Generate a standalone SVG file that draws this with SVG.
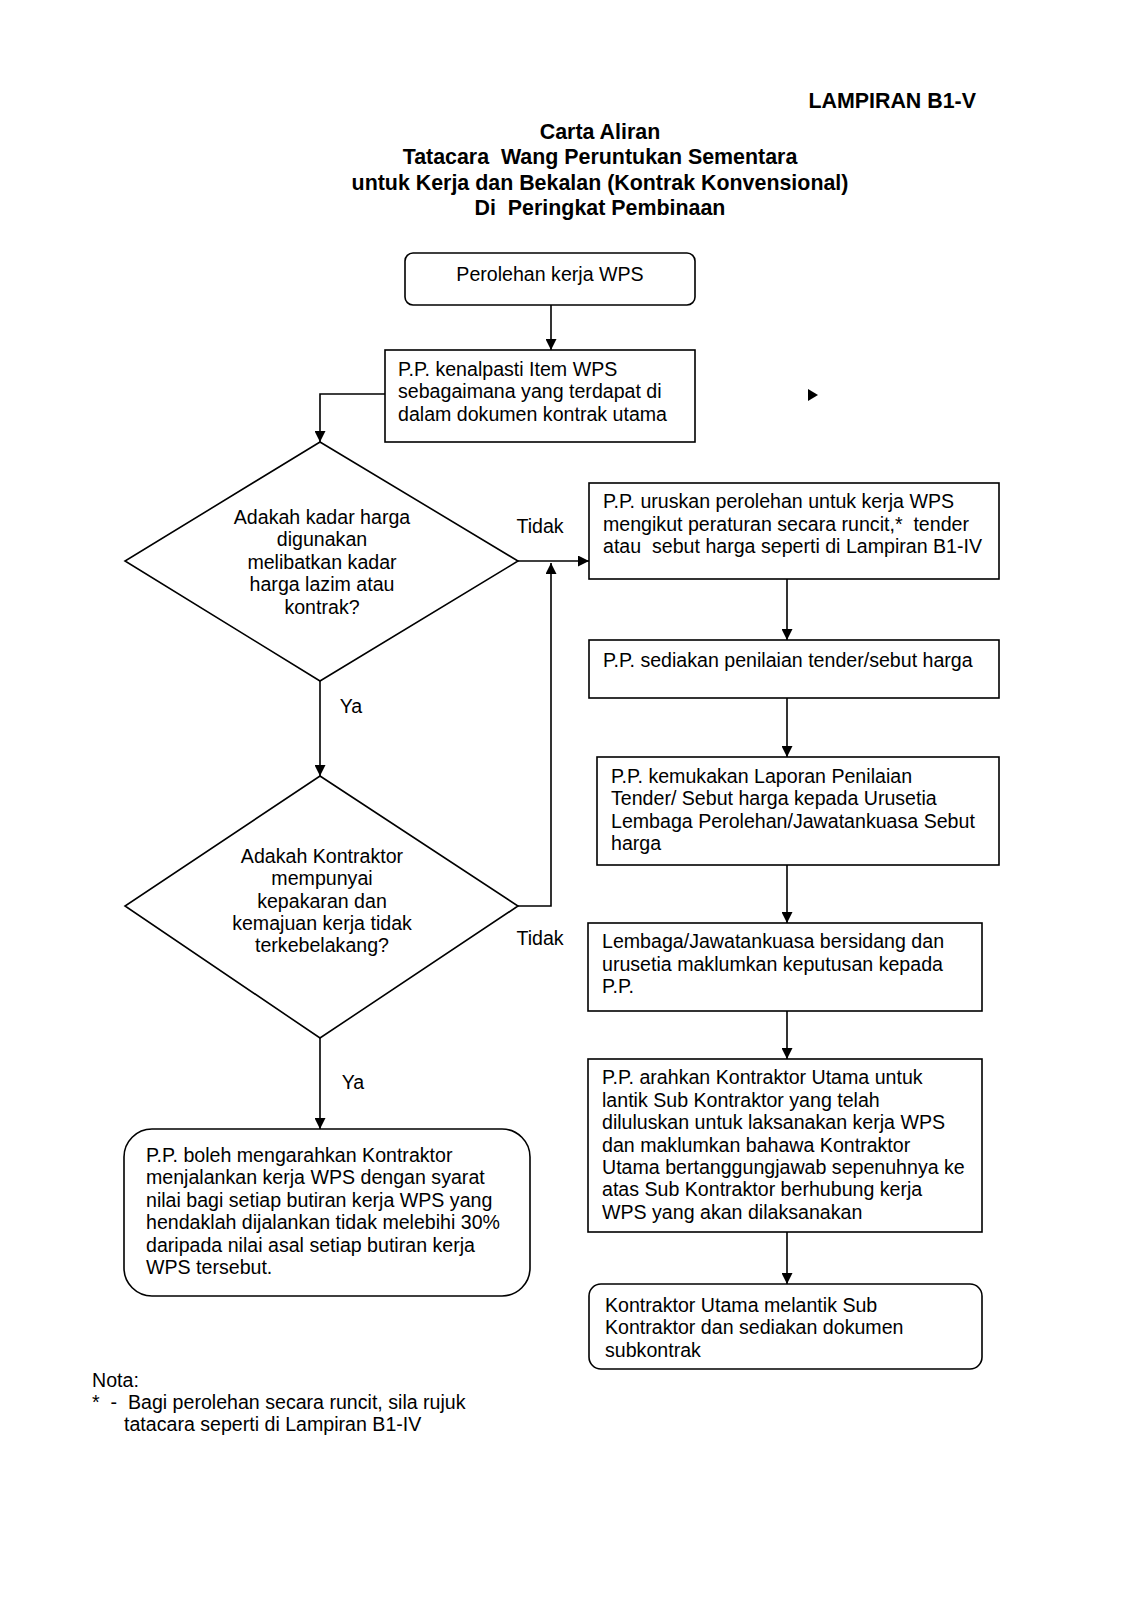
<svg xmlns="http://www.w3.org/2000/svg" width="1130" height="1600" viewBox="0 0 1130 1600">
<style>
text { font-family: "Liberation Sans", Arial, sans-serif; fill: #000; white-space: pre; }
.t { font-size: 19.6px; }
.c { text-anchor: middle; }
.h { font-size: 21.4px; font-weight: bold; text-anchor: middle; }
.box { fill: #fff; stroke: #000; stroke-width: 1.6; }
.ln { fill: none; stroke: #000; stroke-width: 1.6; }
</style>
<defs>
<marker id="ah" markerWidth="11" markerHeight="11" refX="11" refY="5.5" orient="auto" markerUnits="userSpaceOnUse">
<path d="M0,0 L11,5.5 L0,11 Z" fill="#000"/>
</marker>
</defs>
<rect width="1130" height="1600" fill="#fff"/>
<g id="header">
<text x="976" y="108" style="font-size:21.4px;font-weight:bold;text-anchor:end">LAMPIRAN B1-V</text>
<text class="h" x="600" y="139">Carta Aliran</text>
<text class="h" x="600" y="164" xml:space="preserve">Tatacara  Wang Peruntukan Sementara</text>
<text class="h" x="600" y="190">untuk Kerja dan Bekalan (Kontrak Konvensional)</text>
<text class="h" x="600" y="215" xml:space="preserve">Di  Peringkat Pembinaan</text>
</g>
<g id="connectors">
<line class="ln" x1="551" y1="305" x2="551" y2="350" marker-end="url(#ah)"/>
<polyline class="ln" points="385,394 320,394 320,442" marker-end="url(#ah)"/>
<line class="ln" x1="518" y1="561" x2="589" y2="561" marker-end="url(#ah)"/>
<polyline class="ln" points="518,906 551,906 551,563" marker-end="url(#ah)"/>
<line class="ln" x1="320" y1="681" x2="320" y2="776" marker-end="url(#ah)"/>
<line class="ln" x1="320" y1="1038" x2="320" y2="1129" marker-end="url(#ah)"/>
<line class="ln" x1="787" y1="579" x2="787" y2="640" marker-end="url(#ah)"/>
<line class="ln" x1="787" y1="698" x2="787" y2="757" marker-end="url(#ah)"/>
<line class="ln" x1="787" y1="865" x2="787" y2="923" marker-end="url(#ah)"/>
<line class="ln" x1="787" y1="1011" x2="787" y2="1059" marker-end="url(#ah)"/>
<line class="ln" x1="787" y1="1232" x2="787" y2="1284" marker-end="url(#ah)"/>
<text class="t" x="540" y="533" text-anchor="middle">Tidak</text>
<text class="t" x="351" y="713" text-anchor="middle">Ya</text>
<text class="t" x="540" y="945" text-anchor="middle">Tidak</text>
<text class="t" x="353" y="1089" text-anchor="middle">Ya</text>
<path d="M808,389 L818,395 L808,401 Z" fill="#000"/>
</g>
<g id="n1">
<rect class="box" x="405" y="253" width="290" height="52" rx="8"/>
<text class="t c" x="550" y="281">Perolehan kerja WPS</text>
</g>
<g id="n2">
<rect class="box" x="385" y="350" width="310" height="92"/>
<text class="t" x="398" y="376">P.P. kenalpasti Item WPS</text>
<text class="t" x="398" y="398">sebagaimana yang terdapat di</text>
<text class="t" x="398" y="421">dalam dokumen kontrak utama</text>
</g>
<g id="d1">
<polygon class="box" points="320,442 518,561 320,681 125,561"/>
<text class="t c" x="322" y="524">Adakah kadar harga</text>
<text class="t c" x="322" y="546">digunakan</text>
<text class="t c" x="322" y="569">melibatkan kadar</text>
<text class="t c" x="322" y="591">harga lazim atau</text>
<text class="t c" x="322" y="614">kontrak?</text>
</g>
<g id="d2">
<polygon class="box" points="320,776 518,906 320,1038 125,906"/>
<text class="t c" x="322" y="863">Adakah Kontraktor</text>
<text class="t c" x="322" y="885">mempunyai</text>
<text class="t c" x="322" y="908">kepakaran dan</text>
<text class="t c" x="322" y="930">kemajuan kerja tidak</text>
<text class="t c" x="322" y="952">terkebelakang?</text>
</g>
<g id="n3">
<rect class="box" x="589" y="483" width="410" height="96"/>
<text class="t" x="603" y="508">P.P. uruskan perolehan untuk kerja WPS</text>
<text class="t" x="603" y="531" xml:space="preserve">mengikut peraturan secara runcit,*  tender</text>
<text class="t" x="603" y="553" xml:space="preserve">atau  sebut harga seperti di Lampiran B1-IV</text>
</g>
<g id="n4">
<rect class="box" x="589" y="640" width="410" height="58"/>
<text class="t" x="603" y="667">P.P. sediakan penilaian tender/sebut harga</text>
</g>
<g id="n5">
<rect class="box" x="597" y="757" width="402" height="108"/>
<text class="t" x="611" y="783">P.P. kemukakan Laporan Penilaian</text>
<text class="t" x="611" y="805">Tender/ Sebut harga kepada Urusetia</text>
<text class="t" x="611" y="828">Lembaga Perolehan/Jawatankuasa Sebut</text>
<text class="t" x="611" y="850">harga</text>
</g>
<g id="n6">
<rect class="box" x="588" y="923" width="394" height="88"/>
<text class="t" x="602" y="948">Lembaga/Jawatankuasa bersidang dan</text>
<text class="t" x="602" y="971">urusetia maklumkan keputusan kepada</text>
<text class="t" x="602" y="993">P.P.</text>
</g>
<g id="n7">
<rect class="box" x="588" y="1059" width="394" height="173"/>
<text class="t" x="602" y="1084">P.P. arahkan Kontraktor Utama untuk</text>
<text class="t" x="602" y="1107">lantik Sub Kontraktor yang telah</text>
<text class="t" x="602" y="1129">diluluskan untuk laksanakan kerja WPS</text>
<text class="t" x="602" y="1152">dan maklumkan bahawa Kontraktor</text>
<text class="t" x="602" y="1174">Utama bertanggungjawab sepenuhnya ke</text>
<text class="t" x="602" y="1196">atas Sub Kontraktor berhubung kerja</text>
<text class="t" x="602" y="1219">WPS yang akan dilaksanakan</text>
</g>
<g id="n8">
<rect class="box" x="589" y="1284" width="393" height="85" rx="12"/>
<text class="t" x="605" y="1312">Kontraktor Utama melantik Sub</text>
<text class="t" x="605" y="1334">Kontraktor dan sediakan dokumen</text>
<text class="t" x="605" y="1357">subkontrak</text>
</g>
<g id="n9">
<rect class="box" x="124" y="1129" width="406" height="167" rx="28"/>
<text class="t" x="146" y="1162">P.P. boleh mengarahkan Kontraktor</text>
<text class="t" x="146" y="1184">menjalankan kerja WPS dengan syarat</text>
<text class="t" x="146" y="1207">nilai bagi setiap butiran kerja WPS yang</text>
<text class="t" x="146" y="1229">hendaklah dijalankan tidak melebihi 30%</text>
<text class="t" x="146" y="1252">daripada nilai asal setiap butiran kerja</text>
<text class="t" x="146" y="1274">WPS tersebut.</text>
</g>
<g id="nota">
<text class="t" x="92" y="1387">Nota:</text>
<text class="t" x="92" y="1409" xml:space="preserve">*  -  Bagi perolehan secara runcit, sila rujuk</text>
<text class="t" x="124" y="1431">tatacara seperti di Lampiran B1-IV</text>
</g>
</svg>
